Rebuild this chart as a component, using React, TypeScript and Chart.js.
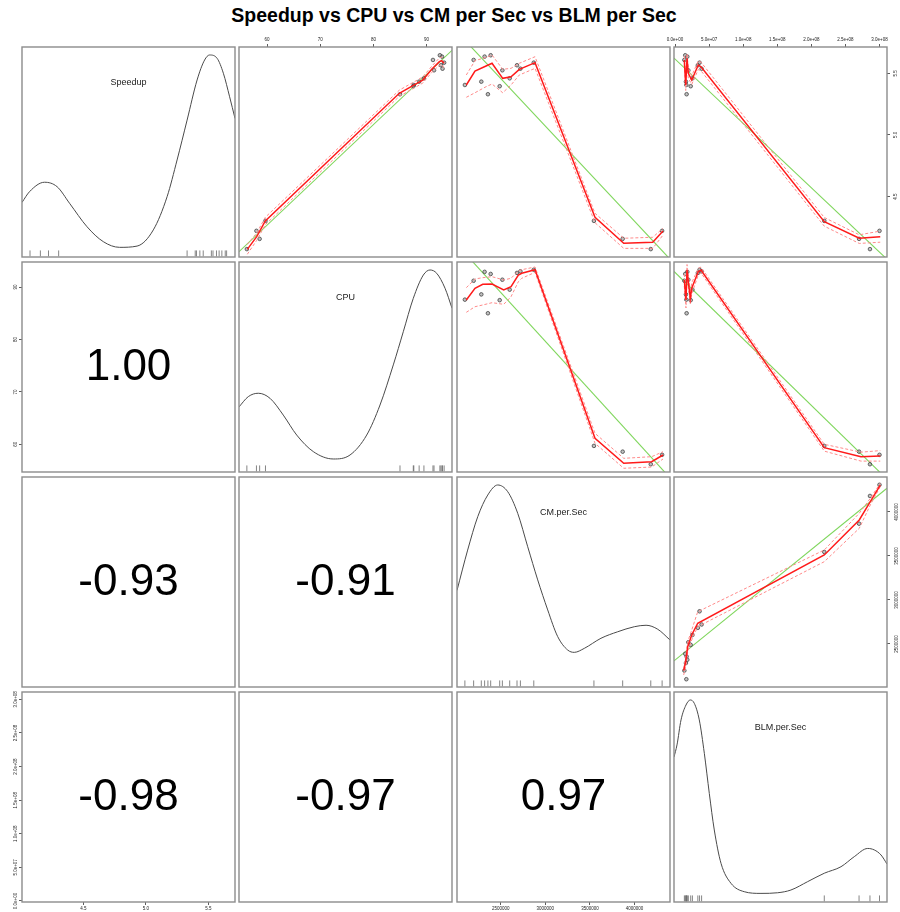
import React, { useEffect, useRef } from "react";
import { Chart, registerables } from "chart.js";

Chart.register(...registerables);

const FONT = "'Liberation Sans', Arial, Helvetica, sans-serif";

// ---------------- observations (16 runs) ----------------
const speedup = [5.405, 5.608, 5.432, 5.635, 5.33, 5.646, 5.395, 5.524, 5.459, 5.565, 5.537, 5.586, 4.303, 4.157, 4.074, 4.222];
const cpu = [87.6, 91.2, 88.6, 92.9, 85.0, 92.5, 87.5, 91.4, 89.5, 92.7, 93.0, 93.3, 59.7, 58.6, 56.2, 58.0];
const cmPerSec = [2099000, 2197000, 2283000, 2320000, 2357000, 2388000, 2489000, 2519000, 2601000, 2683000, 2721000, 2871000, 3545000, 3867000, 4182000, 4309000];
const blmPerSec = [16600000, 13700000, 16000000, 18000000, 17000000, 15000000, 23000000, 19500000, 25500000, 33500000, 39000000, 36000000, 219000000, 270000000, 286000000, 300000000];

const variableNames = ["Speedup", "CPU", "CM.per.Sec", "BLM.per.Sec"];
const chartTitle = "Speedup vs CPU vs CM per Sec vs BLM per Sec";
const correlationLabels = [
  ["", "", "", ""],
  ["1.00", "", "", ""],
  ["-0.93", "-0.91", "", ""],
  ["-0.98", "-0.97", "0.97", ""],
];

// ---------------- axis ranges and ticks ----------------
const speedupRange = [4.01, 5.713];
const cpuRange = [54.72, 94.78];
const cmRange = [2010600, 4397400];
const blmRange = [-1500000, 311000000];

const speedupTicks = [4.5, 5.0, 5.5];
const speedupTickLabels = ["4.5", "5.0", "5.5"];
const cpuTicks = [60, 70, 80, 90];
const cpuTickLabels = ["60", "70", "80", "90"];
const cmTicks = [2500000, 3000000, 3500000, 4000000];
const cmTickLabels = ["2500000", "3000000", "3500000", "4000000"];
const blmTicks = [0, 50000000, 100000000, 150000000, 200000000, 250000000, 300000000];
const blmTickLabels = ["0.0e+00", "5.0e+07", "1.0e+08", "1.5e+08", "2.0e+08", "2.5e+08", "3.0e+08"];

// ---------------- density curves (relative height) ----------------
const speedupDensityX = [4.01, 4.07, 4.19, 4.29, 4.39, 4.53, 4.66, 4.79, 4.93, 5.06, 5.17, 5.25, 5.33, 5.41, 5.47, 5.51, 5.57, 5.62, 5.67, 5.713];
const speedupDensityY = [0.26, 0.311, 0.356, 0.335, 0.256, 0.144, 0.073, 0.046, 0.052, 0.129, 0.287, 0.462, 0.652, 0.843, 0.938, 0.962, 0.946, 0.875, 0.763, 0.66];
const cpuDensityX = [54.72, 56.47, 58.35, 60.55, 63.05, 65.57, 68.7, 72.46, 75.6, 78.74, 81.24, 83.74, 85.62, 87.5, 89.39, 90.65, 91.91, 93.47, 94.78];
const cpuDensityY = [0.31, 0.359, 0.375, 0.351, 0.271, 0.176, 0.097, 0.062, 0.081, 0.176, 0.319, 0.51, 0.668, 0.827, 0.938, 0.962, 0.946, 0.875, 0.78];
const cmDensityX = [2010600, 2130000, 2243000, 2355000, 2467000, 2579000, 2691000, 2803000, 2915000, 3027000, 3139000, 3251000, 3325000, 3437000, 3624000, 3811000, 3997000, 4129000, 4260000, 4397400];
const cmDensityY = [0.46, 0.652, 0.811, 0.914, 0.962, 0.93, 0.827, 0.668, 0.51, 0.367, 0.24, 0.176, 0.165, 0.184, 0.232, 0.263, 0.287, 0.294, 0.275, 0.224];
const blmDensityX = [-1500000, 2900000, 8800000, 16100000, 22400000, 28300000, 35600000, 43000000, 50300000, 57600000, 67500000, 82100000, 101600000, 126100000, 150600000, 170000000, 194600000, 219000000, 243500000, 263000000, 282700000, 292300000, 302200000, 311000000];
const blmDensityY = [0.69, 0.748, 0.867, 0.938, 0.962, 0.946, 0.867, 0.708, 0.517, 0.343, 0.184, 0.089, 0.049, 0.041, 0.044, 0.057, 0.097, 0.137, 0.168, 0.216, 0.255, 0.248, 0.224, 0.181];

// ---------------- smoothers (red) with bands, and linear fits (green) ----------------
// Speedup (y) vs CPU (x)
const smoothSpeedupCpuX = [56.28, 58.05, 59.67, 84.87, 87.51, 89.27, 90.97, 92.4, 92.85, 93.28];
const smoothSpeedupCpuY = [4.072, 4.175, 4.302, 5.338, 5.402, 5.445, 5.532, 5.594, 5.602, 5.581];
const smoothSpeedupCpuUpper = [4.112, 4.205, 4.332, 5.363, 5.427, 5.47, 5.557, 5.624, 5.632, 5.621];
const smoothSpeedupCpuLower = [4.032, 4.145, 4.272, 5.313, 5.377, 5.42, 5.507, 5.564, 5.572, 5.541];
const lineSpeedupCpuX = [54.72, 94.78];
const lineSpeedupCpuY = [4.053, 5.686];

// Speedup (y) vs CM (x)
const smoothSpeedupCmX = [2115000, 2212000, 2336000, 2403000, 2523000, 2616000, 2709000, 2885000, 3557000, 3879000, 4204000, 4319000];
const smoothSpeedupCmY = [5.405, 5.518, 5.559, 5.581, 5.459, 5.472, 5.532, 5.586, 4.332, 4.121, 4.129, 4.221];
const smoothSpeedupCmUpper = [5.486, 5.602, 5.629, 5.648, 5.532, 5.54, 5.581, 5.634, 4.364, 4.162, 4.17, 4.243];
const smoothSpeedupCmLower = [5.305, 5.342, 5.391, 5.413, 5.342, 5.405, 5.486, 5.54, 4.288, 4.08, 4.08, 4.188];
const lineSpeedupCmX = [2010600, 4397400];
const lineSpeedupCmY = [5.836, 3.993];

// Speedup (y) vs BLM (x)
const smoothSpeedupBlmX = [13600000, 15700000, 17600000, 19500000, 24500000, 34100000, 38100000, 219000000, 270300000, 301100000];
const smoothSpeedupBlmY = [5.608, 5.405, 5.621, 5.5, 5.445, 5.567, 5.553, 4.296, 4.162, 4.175];
const smoothSpeedupBlmUpper = [5.64, 5.45, 5.66, 5.54, 5.48, 5.6, 5.59, 4.33, 4.19, 4.22];
const smoothSpeedupBlmLower = [5.57, 5.36, 5.58, 5.46, 5.41, 5.53, 5.52, 4.26, 4.12, 4.13];
const lineSpeedupBlmX = [-1500000, 311000000];
const lineSpeedupBlmY = [5.623, 3.992];

// CPU (y) vs CM (x)
const smoothCpuCmX = [2115000, 2212000, 2299000, 2403000, 2534000, 2616000, 2698000, 2736000, 2885000, 3557000, 3879000, 4192000, 4319000];
const smoothCpuCmY = [87.53, 89.76, 90.52, 90.58, 89.44, 90.07, 92.3, 92.62, 93.31, 61.15, 56.38, 56.69, 57.96];
const smoothCpuCmUpper = [89.88, 91.54, 91.79, 91.98, 91.35, 91.67, 93.06, 93.31, 93.83, 62.1, 57.33, 57.64, 58.59];
const smoothCpuCmLower = [85.18, 86.25, 86.58, 87.02, 86.71, 88.16, 91.02, 91.67, 92.81, 60.2, 55.43, 55.67, 57.2];
const lineCpuCmX = [2010600, 4397400];
const lineCpuCmY = [98.11, 53.6];

// CPU (y) vs BLM (x)
const smoothCpuBlmX = [13600000, 16100000, 17600000, 22400000, 24500000, 34100000, 38100000, 219000000, 272800000, 301100000];
const smoothCpuBlmY = [91.35, 87.53, 93.25, 87.85, 89.76, 92.93, 93.25, 59.36, 57.64, 57.77];
const smoothCpuBlmUpper = [92.5, 89.0, 94.3, 89.0, 90.8, 93.6, 93.8, 60.0, 58.5, 58.8];
const smoothCpuBlmLower = [90.2, 86.0, 92.2, 86.7, 88.7, 92.3, 92.7, 58.7, 56.8, 56.8];
const lineCpuBlmX = [-1500000, 311000000];
const lineCpuBlmY = [92.99, 53.35];

// CM (y) vs BLM (x)
const smoothCmBlmX = [12700000, 15700000, 18600000, 24500000, 33300000, 219000000, 270300000, 286500000, 301100000];
const smoothCmBlmY = [2196000, 2298000, 2469000, 2602000, 2735000, 3511000, 3909000, 4117000, 4306000];
const smoothCmBlmUpper = [2223000, 2355000, 2525000, 2658000, 2866000, 3568000, 3985000, 4155000, 4326000];
const smoothCmBlmLower = [2147000, 2241000, 2412000, 2545000, 2696000, 3435000, 3814000, 4079000, 4287000];
const lineCmBlmX = [-1500000, 311000000];
const lineCmBlmY = [2307000, 4269000];

// ---------------- lookup tables built from the arrays ----------------
const variables = [speedup, cpu, cmPerSec, blmPerSec];
const ranges = [speedupRange, cpuRange, cmRange, blmRange];
const tickValues = [speedupTicks, cpuTicks, cmTicks, blmTicks];
const tickLabels = [speedupTickLabels, cpuTickLabels, cmTickLabels, blmTickLabels];
const densities = [
  [speedupDensityX, speedupDensityY],
  [cpuDensityX, cpuDensityY],
  [cmDensityX, cmDensityY],
  [blmDensityX, blmDensityY],
];
const smoothers: any = {
  "0-1": [smoothSpeedupCpuX, smoothSpeedupCpuY, smoothSpeedupCpuUpper, smoothSpeedupCpuLower, lineSpeedupCpuX, lineSpeedupCpuY],
  "0-2": [smoothSpeedupCmX, smoothSpeedupCmY, smoothSpeedupCmUpper, smoothSpeedupCmLower, lineSpeedupCmX, lineSpeedupCmY],
  "0-3": [smoothSpeedupBlmX, smoothSpeedupBlmY, smoothSpeedupBlmUpper, smoothSpeedupBlmLower, lineSpeedupBlmX, lineSpeedupBlmY],
  "1-2": [smoothCpuCmX, smoothCpuCmY, smoothCpuCmUpper, smoothCpuCmLower, lineCpuCmX, lineCpuCmY],
  "1-3": [smoothCpuBlmX, smoothCpuBlmY, smoothCpuBlmUpper, smoothCpuBlmLower, lineCpuBlmX, lineCpuBlmY],
  "2-3": [smoothCmBlmX, smoothCmBlmY, smoothCmBlmUpper, smoothCmBlmLower, lineCmBlmX, lineCmBlmY],
};

// ---------------- layout ----------------
const PANEL_LEFT = [22, 239, 457, 674];
const PANEL_TOP = [47, 262, 477, 692];
const PANEL_W = 213;
const PANEL_H = 210;
const MARGIN = 30;
const AXIS_BOX = 16;
const RUG_Y = 0.017;

function xy(xs: number[], ys: number[]) {
  return xs.map((x, i) => ({ x, y: ys[i] }));
}

function axis(vi: number, range: number[], show: boolean, position: string, isX: boolean, padding: number) {
  return {
    type: "linear",
    position,
    min: range[0],
    max: range[1],
    display: show,
    afterFit: (s: any) => {
      const size = show ? AXIS_BOX : 0;
      if (s.isHorizontal()) s.height = size;
      else s.width = size;
    },
    afterBuildTicks: (s: any) => {
      if (vi >= 0) s.ticks = tickValues[vi].map((v) => ({ value: v }));
    },
    ticks: {
      autoSkip: false,
      font: { family: FONT, size: 4.5 },
      color: "#222",
      padding,
      minRotation: isX ? 0 : 90,
      maxRotation: isX ? 0 : 90,
      crossAlign: isX ? "near" : "center",
      callback: (v: number) => {
        if (vi < 0) return "";
        const idx = tickValues[vi].findIndex((t) => Math.abs(t - v) <= 1e-9 * Math.max(1, Math.abs(t)));
        return idx >= 0 ? tickLabels[vi][idx] : "";
      },
    },
    grid: { display: show, drawOnChartArea: false, drawTicks: true, tickLength: 3, color: "#333", lineWidth: 0.8 },
    border: { display: false },
  };
}

function buildConfig(r: number, c: number) {
  const datasets: any[] = [];
  const isDiag = r === c;
  const isUpper = c > r;

  if (isDiag) {
    const [dx, dy] = densities[c];
    datasets.push({
      data: xy(dx, dy),
      showLine: true,
      pointRadius: 0,
      borderColor: "#4a4a4a",
      borderWidth: 1,
      cubicInterpolationMode: "monotone",
    });
    datasets.push({
      data: variables[c].map((v) => ({ x: v, y: RUG_Y })),
      showLine: false,
      pointStyle: "line",
      rotation: 90,
      pointRadius: 3,
      borderColor: "#666",
      borderWidth: 0.8,
    });
  } else if (isUpper) {
    const [sx, sy, su, sl, lx, ly] = smoothers[`${r}-${c}`];
    datasets.push({ data: xy(sx, sy), showLine: true, pointRadius: 0, borderColor: "#ff1a1a", borderWidth: 1.5 });
    datasets.push({ data: xy(sx, su), showLine: true, pointRadius: 0, borderColor: "#ff8a8a", borderWidth: 1, borderDash: [3, 2] });
    datasets.push({ data: xy(sx, sl), showLine: true, pointRadius: 0, borderColor: "#ff8a8a", borderWidth: 1, borderDash: [3, 2] });
    datasets.push({
      data: xy(variables[c], variables[r]),
      showLine: false,
      pointRadius: 1.8,
      backgroundColor: "rgba(140,140,140,0.55)",
      borderColor: "#444",
      borderWidth: 0.8,
    });
    datasets.push({ data: xy(lx, ly), showLine: true, pointRadius: 0, borderColor: "#7fd65c", borderWidth: 1.1 });
  }

  const showTop = r === 0 && c % 2 === 1;
  const showBottom = r === 3 && c % 2 === 0;
  const showLeft = c === 0 && r % 2 === 1;
  const showRight = c === 3 && r % 2 === 0;

  const xPos = showTop ? "top" : "bottom";
  const yPos = showRight ? "right" : "left";
  const yRange = isDiag ? [0, 1] : ranges[r];
  const yVar = isDiag ? -1 : r;

  // label padding tuned so rotated labels sit ~6-9px outside the frame
  let yPad = 0;
  if (showLeft) yPad = r === 3 ? -4.5 : 0.5;
  if (showRight) yPad = r === 2 ? -2 : 3;

  const framePlugin = {
    id: "panelFrame" + r + c,
    afterDatasetsDraw(chart: any) {
      const { ctx, chartArea: a } = chart;
      ctx.save();
      ctx.strokeStyle = "#8c8c8c";
      ctx.lineWidth = 1.4;
      ctx.strokeRect(a.left, a.top, a.right - a.left, a.bottom - a.top);
      const cx = (a.left + a.right) / 2;
      if (isDiag) {
        ctx.fillStyle = "#222";
        ctx.font = `9px ${FONT}`;
        ctx.textAlign = "center";
        ctx.textBaseline = "middle";
        ctx.fillText(variableNames[c], cx, a.top + 35.5);
      }
      const corr = correlationLabels[r][c];
      if (corr) {
        ctx.fillStyle = "#000";
        ctx.font = `44px ${FONT}`;
        ctx.textAlign = "center";
        ctx.textBaseline = "middle";
        ctx.fillText(corr, cx, (a.top + a.bottom) / 2 + 1);
      }
      ctx.restore();
    },
  };

  const padding = {
    top: MARGIN - (showTop ? AXIS_BOX : 0),
    bottom: MARGIN - (showBottom ? AXIS_BOX : 0),
    left: MARGIN - (showLeft ? AXIS_BOX : 0),
    right: MARGIN - (showRight ? AXIS_BOX : 0),
  };

  return {
    type: "scatter",
    data: { datasets },
    options: {
      responsive: false,
      animation: false,
      devicePixelRatio: 1,
      events: [],
      layout: { padding, autoPadding: false },
      plugins: { legend: { display: false }, tooltip: { enabled: false }, title: { display: false } },
      scales: {
        x: axis(c, ranges[c], showTop || showBottom, xPos, true, 1.5),
        y: axis(yVar, yRange, showLeft || showRight, yPos, false, yPad),
      },
    },
    plugins: [framePlugin],
  };
}

function Panel({ r, c }: { r: number; c: number }) {
  const ref = useRef<HTMLCanvasElement>(null);
  useEffect(() => {
    const chart = new Chart(ref.current as HTMLCanvasElement, buildConfig(r, c) as any);
    return () => chart.destroy();
  }, [r, c]);
  return (
    <canvas
      ref={ref}
      width={PANEL_W + 2 * MARGIN}
      height={PANEL_H + 2 * MARGIN}
      style={{
        position: "absolute",
        left: PANEL_LEFT[c] - MARGIN,
        top: PANEL_TOP[r] - MARGIN,
        width: PANEL_W + 2 * MARGIN,
        height: PANEL_H + 2 * MARGIN,
      }}
    />
  );
}

export default function App() {
  const cells: any[] = [];
  for (let r = 0; r < 4; r++) for (let c = 0; c < 4; c++) cells.push(<Panel key={`${r}-${c}`} r={r} c={c} />);
  return (
    <div style={{ position: "absolute", left: 0, top: 0, width: 900, height: 912, background: "#fff", overflow: "hidden" }}>
      <div
        style={{
          position: "absolute",
          left: 4,
          top: 5,
          width: 900,
          textAlign: "center",
          font: `bold 19.5px ${FONT}`,
          lineHeight: "20px",
          color: "#000",
        }}
      >
        {chartTitle}
      </div>
      {cells}
    </div>
  );
}
